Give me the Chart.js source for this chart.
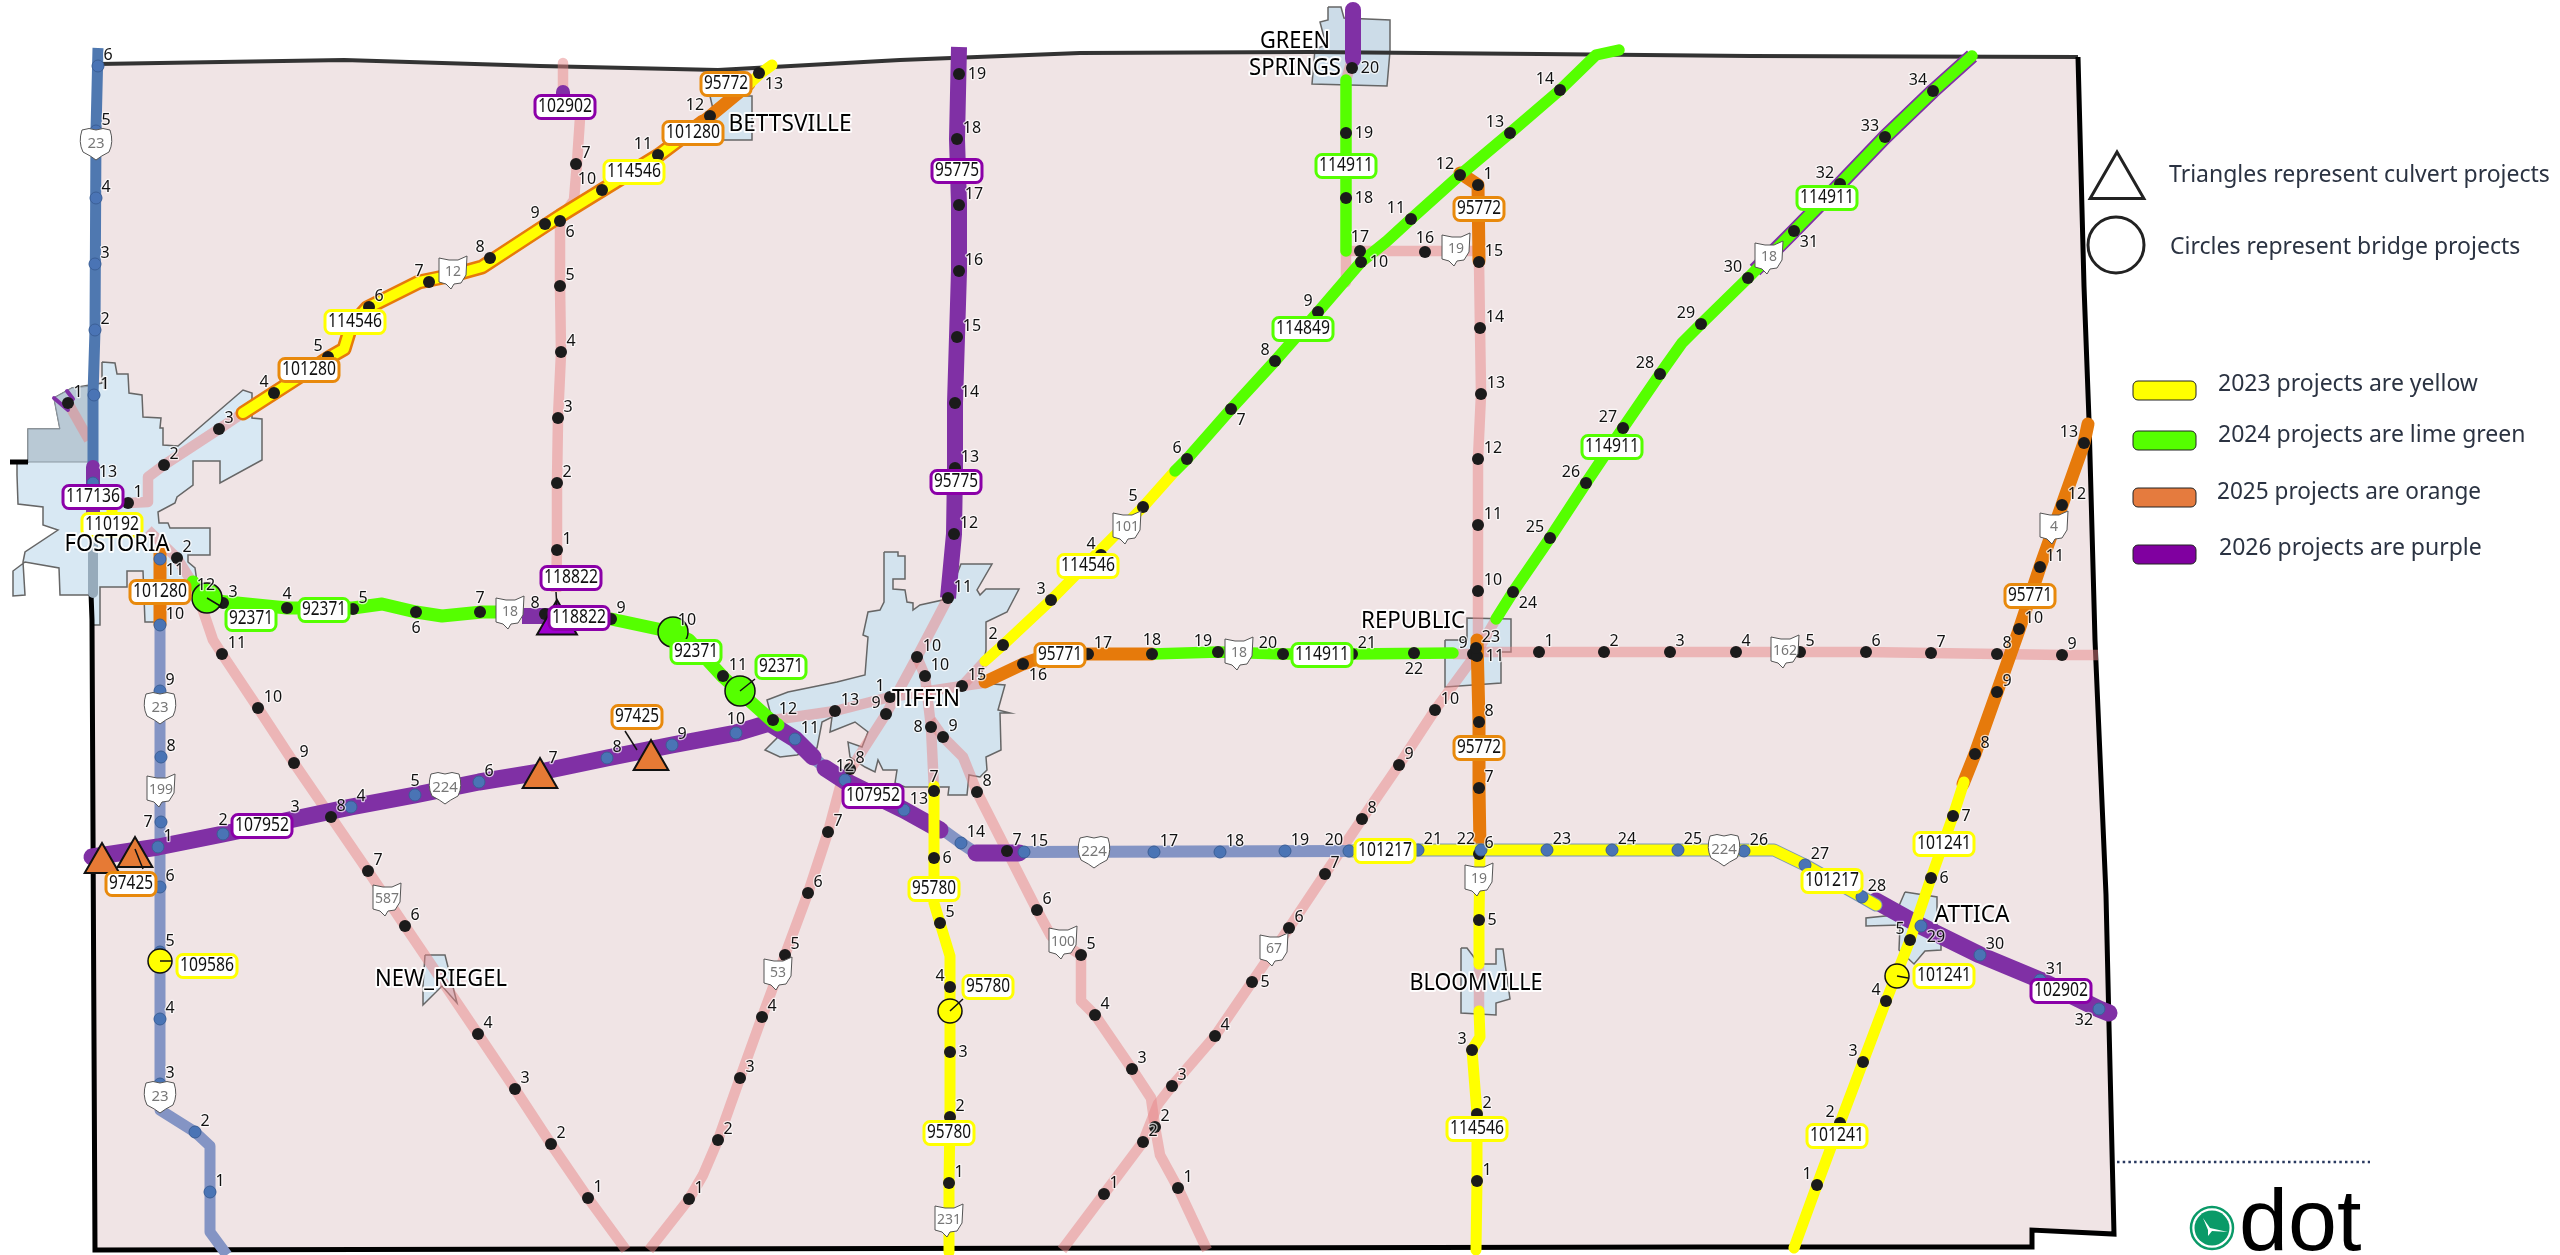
<!DOCTYPE html>
<html><head><meta charset="utf-8"><style>html,body{margin:0;padding:0;background:#fff;overflow:hidden}canvas{display:block}</style>
<script src="https://cdn.jsdelivr.net/npm/chart.js@4"></script></head><body><canvas id="c" width="2560" height="1255" style="width:2560px;height:1255px"></canvas>
<script>
// ---------- map geometry (map units) ----------
const countyFill=[[98,64],[344,60],[540,66],[718,70],[900,60],[1080,53],[1309,52],[1539,54],[1750,56],[2078,57],[2084,286],[2089,420],[2095,640],[2106,895],[2109,1025],[2114,1234],[2032,1230],[2032,1247],[1700,1247],[95,1250],[92,620],[91,470],[98,64]];
const countyTop=[[98,64],[344,60],[540,66],[718,70],[900,60],[1080,53],[1309,52],[1539,54],[1750,56],[2078,57]];
const countyRest=[[2078,57],[2084,286],[2089,420],[2095,640],[2106,895],[2109,1025],[2114,1234],[2032,1230],[2032,1247],[1700,1247],[95,1250],[92,620],[91,593]];
const countyStub=[[10,462],[28,462]];
const townFostoria=[[102,362],[115,363],[117,374],[128,374],[129,393],[142,395],[143,417],[161,418],[160,428],[163,428],[163,445],[178,446],[243,390],[252,393],[252,418],[262,419],[262,460],[220,483],[220,461],[193,461],[193,485],[177,497],[175,503],[158,512],[159,523],[168,523],[170,528],[210,528],[210,555],[188,555],[188,562],[195,568],[197,582],[165,585],[162,622],[145,622],[143,571],[127,571],[127,587],[100,587],[100,625],[92,625],[92,595],[60,595],[59,568],[25,562],[13,571],[13,596],[25,595],[23,562],[25,552],[58,530],[43,525],[43,507],[18,504],[17,475],[17,462],[28,462],[28,429],[60,429],[54,398],[72,388],[102,383],[102,362]];
const townFostoriaNorth=[[28,429],[60,429],[54,398],[72,388],[92,386],[92,462],[28,462],[28,429]];
const townTiffin=[[884,552],[898,552],[898,556],[905,556],[905,579],[893,579],[893,589],[905,590],[907,602],[913,603],[913,610],[920,605],[947,599],[961,564],[992,564],[977,590],[980,595],[986,589],[1019,589],[1007,612],[986,622],[986,650],[980,683],[1005,685],[998,710],[1010,713],[1000,713],[1001,750],[986,757],[987,770],[980,777],[969,775],[967,795],[948,795],[949,787],[905,787],[895,783],[897,770],[883,770],[878,760],[875,772],[865,767],[850,757],[848,742],[862,747],[868,732],[855,722],[830,732],[832,717],[822,722],[817,748],[797,755],[780,757],[765,750],[777,738],[767,700],[788,692],[837,682],[865,675],[868,637],[863,635],[868,612],[880,610],[884,602],[884,552]];
const townBettsville=[[710,96],[752,96],[752,140],[720,140],[710,96]];
const townGreenSprings=[[1328,7],[1341,7],[1344,18],[1390,20],[1390,51],[1387,86],[1312,84],[1315,49],[1326,45],[1320,22],[1328,20],[1328,7]];
const townRepublic=[[1445,640],[1467,640],[1467,618],[1511,619],[1511,652],[1501,652],[1501,683],[1445,687],[1445,640]];
const townBloomville=[[1461,948],[1467,948],[1479,964],[1496,964],[1496,949],[1503,949],[1510,999],[1496,1003],[1496,1015],[1461,1013],[1461,948]];
const townNewRiegel=[[425,955],[445,955],[457,1003],[442,986],[423,1005],[423,986],[425,955]];
const townAttica=[[1905,892],[1937,897],[1937,940],[1941,940],[1941,950],[1925,951],[1914,964],[1899,950],[1900,925],[1866,926],[1866,918],[1895,915],[1905,892]];

const us23North=[[98,48],[96,131],[95,330],[93,395],[93,469]];
const us23Town=[[93,514],[93,593]];
const us23South=[[160,559],[160,1110],[195,1132],[210,1146],[210,1232],[227,1255]];
const pinkSr12West=[[128,503],[148,502],[148,477],[164,465],[219,429],[243,413]];
const pinkSr635=[[563,63],[563,94],[580,118],[577,163],[574,200],[560,220],[560,286],[561,353],[558,418],[557,484],[557,549],[556,592]];
const pinkFostoriaNW=[[68,403],[89,440]];
const pinkSr587=[[148,530],[177,558],[195,587],[213,640],[222,654],[258,708],[294,763],[331,817],[368,871],[405,926],[478,1034],[515,1089],[551,1144],[588,1198],[626,1250]];
const pinkSr53=[[948,598],[917,657],[886,714],[850,770],[840,787],[828,832],[808,893],[785,955],[762,1017],[740,1078],[718,1140],[703,1175],[689,1199],[649,1250]];
const pinkTiffinWest=[[773,720],[835,711],[890,697],[962,686],[983,683]];
const pinkTiffinLink=[[962,686],[985,661]];
const pinkTiffinSouth=[[917,657],[925,676],[931,727],[934,790]];
const pinkSr100=[[931,720],[943,737],[963,757],[977,792],[1007,851],[1037,910],[1051,936],[1081,955],[1081,1001],[1095,1015],[1132,1069],[1151,1098],[1155,1127],[1160,1155],[1178,1188],[1207,1250]];
const pinkSr67=[[1062,1250],[1104,1194],[1143,1142],[1158,1104],[1172,1086],[1215,1036],[1252,982],[1289,928],[1325,874],[1362,819],[1399,765],[1435,710],[1476,654],[1496,619]];
const pinkSr19North=[[1479,261],[1480,328],[1481,394],[1478,459],[1478,525],[1478,591],[1478,650]];
const pinkSr19Link=[[1346,251],[1479,251]];
const pinkGreenSouth=[[1346,251],[1346,282]];
const pinkGreenNorth=[[1352,60],[1346,80]];
const pinkRepublicLink=[[1453,654],[1480,654]];
const pinkSr162=[[1476,652],[1539,652],[1604,652],[1670,652],[1736,652],[1800,652],[1866,652],[1931,653],[1997,654],[2062,655],[2098,655]];
const pinkBloomville=[[1479,964],[1479,1013]];

const yellowSr12=[[243,413],[330,357],[344,349],[351,326],[367,308],[419,282],[453,275],[482,267],[560,216],[659,155],[703,122]];
const orangeSr12Top=[[703,122],[749,84]];
const yellowSr12Top=[[749,84],[761,73],[772,65]];
const yellowSr101=[[985,661],[1003,645],[1051,600],[1143,507],[1175,471]];
const yellowSr53=[[934,786],[934,858],[934,903],[940,923],[950,956],[950,987],[950,1052],[950,1117],[949,1183],[949,1252]];
const yellowUs224=[[1349,851],[1418,850],[1547,850],[1612,850],[1678,850],[1774,850],[1805,865],[1862,897],[1876,905]];
const yellowSr19A=[[1480,851],[1479,920],[1479,964]];
const yellowSr19B=[[1479,1011],[1480,1037],[1472,1050],[1477,1114],[1477,1181],[1476,1250]];
const yellowSr4=[[1964,782],[1953,816],[1931,878],[1910,940],[1886,1001],[1863,1062],[1840,1123],[1817,1185],[1794,1248]];
const yellowFostoria=[[112,508],[112,524]];

const greenSr18West=[[193,582],[207,600],[287,608],[353,608],[382,604],[416,612],[442,616],[482,612],[511,612]];
const greenSr18West2=[[611,619],[672,632],[689,640],[723,677],[772,721],[778,725]];
const greenSr101=[[1175,471],[1187,459],[1231,409],[1275,361],[1318,312],[1361,262],[1387,241],[1411,219],[1460,175],[1510,133],[1560,90],[1596,55],[1619,50]];
const greenSpringsRoad=[[1346,80],[1346,251]];
const greenSr18East=[[1152,654],[1218,652],[1283,654],[1352,654],[1453,653]];
const greenNE=[[1496,619],[1513,592],[1550,538],[1586,483],[1623,428],[1660,374],[1682,343],[1701,324],[1748,278],[1794,231],[1840,184],[1885,137],[1933,91],[1972,56]];
const purpleUnderNE=[[1755,270],[1794,231],[1840,184],[1885,137],[1933,91],[1972,56]];

const orangeFostoria=[[160,551],[160,624]];
const orangeSr18=[[985,682],[1023,664],[1040,658],[1088,654],[1152,654]];
const orangeSr19N=[[1460,173],[1478,185],[1479,261]];
const orangeSr19S=[[1477,640],[1479,722],[1479,788],[1480,847]];
const orangeSr4=[[2088,424],[2084,443],[2062,505],[2040,567],[2019,630],[1997,692],[1975,754],[1963,784]];

const blueUs224Link=[[813,757],[825,768]];
const blueUs224East=[[940,830],[943,830],[961,843],[976,853]];
const blueUs224Mid=[[1019,852],[1349,851]];
const purpleUs224A=[[92,857],[158,847],[223,834],[351,807],[415,795],[479,782],[540,772],[607,758],[672,745],[736,733],[769,723],[795,739],[813,757]];
const purpleUs224B=[[825,768],[845,781],[904,810],[940,830]];
const purpleUs224C=[[976,853],[1019,853]];
const purpleEast=[[1876,901],[1921,926],[1980,955],[2040,980],[2099,1009],[2109,1013]];
const purpleSr53=[[959,47],[957,139],[959,204],[959,271],[957,337],[955,403],[955,468],[954,534],[948,598]];
const purpleGreenSprings=[[1353,10],[1353,59]];
const purpleSr18=[[522,616],[608,616]];
const purpleFostoria=[[93,467],[93,513]];
const purpleCap=[[563,92],[563,100]];
const purpleStub1=[[54,398],[68,410]];
const purpleStub2=[[67,391],[73,399]];

// ---------- reference posts: x, y, label, label side ----------
const dotsSr12=[[128,503,'1'],[164,465,'2'],[219,429,'3'],[274,393,'4','nw'],[328,357,'5','nw'],[369,307,'6'],[429,282,'7','nw'],[490,258,'8','nw'],[545,224,'9','nw'],[602,190,'10','nw'],[658,155,'11','nw'],[710,116,'12','nw'],[759,73,'13','se']];
const dotsSr635=[[576,164,'7'],[560,221,'6','se'],[560,286,'5'],[561,352,'4'],[558,418,'3'],[557,483,'2'],[557,550,'1']];
const dotsFostoriaNW=[[68,403,'1']];
const dotsSr18West=[[223,603,'3'],[287,608,'4','n'],[353,609,'5'],[416,612,'6','s'],[480,612,'7','n'],[545,614,'8','nw'],[611,619,'9'],[723,676,'11'],[773,720,'12']];
const dotsSr587=[[177,558,'2'],[222,654,'11'],[258,708,'10'],[294,763,'9'],[331,817,'8'],[368,871,'7'],[405,926,'6'],[478,1034,'4'],[515,1089,'3'],[551,1144,'2'],[588,1198,'1']];
const dotsSr53South=[[689,1199,'1'],[718,1140,'2'],[740,1078,'3'],[762,1017,'4'],[785,955,'5'],[808,893,'6'],[828,832,'7'],[850,769,'8'],[886,714,'9','nw'],[917,657,'10']];
const dotsTiffin=[[925,676,'10'],[835,711,'13'],[890,697,'1','nw'],[931,727,'8','w'],[943,737,'9'],[934,791,'7','n'],[977,792,'8']];
const dotsSr53North=[[948,598,'11'],[954,534,'12'],[955,468,'13'],[955,403,'14'],[957,337,'15'],[959,271,'16'],[959,205,'17'],[957,139,'18'],[959,74,'19','e']];
const dotsSr53Lower=[[934,858,'6','e'],[940,923,'5'],[950,987,'4','nw'],[950,1052,'3','e'],[950,1117,'2'],[949,1183,'1']];
const dotsSr100=[[1007,851,'7'],[1037,910,'6'],[1081,955,'5'],[1095,1015,'4'],[1132,1069,'3'],[1155,1127,'2'],[1178,1188,'1']];
const dotsSr67=[[1104,1194,'1'],[1143,1142,'2'],[1172,1086,'3'],[1215,1036,'4'],[1252,982,'5','e'],[1289,928,'6'],[1325,874,'7'],[1362,819,'8'],[1399,765,'9'],[1435,710,'10'],[1473,654,'9','nw'],[1477,656,'11','e']];
const dotsGreenSprings=[[1352,68,'20','e'],[1346,133,'19','e'],[1346,198,'18','e'],[1360,251,'17','n'],[1425,252,'16','n']];
const dotsSr101=[[1003,645,'2','nw'],[1051,600,'3','nw'],[1101,555,'4','nw'],[1143,507,'5','nw'],[1187,459,'6','nw'],[1231,409,'7','se'],[1275,361,'8','nw'],[1318,312,'9','nw'],[1361,262,'10','e'],[1411,219,'11','nw'],[1460,175,'12','nw'],[1510,133,'13','nw'],[1560,90,'14','nw']];
const dotsSr19North=[[1478,185,'1'],[1479,262,'15'],[1480,328,'14'],[1481,394,'13'],[1478,459,'12'],[1478,525,'11'],[1478,591,'10']];
const dotsSr19South=[[1479,722,'8'],[1479,788,'7'],[1479,854,'6'],[1479,920,'5','e'],[1472,1050,'3','nw'],[1477,1114,'2'],[1477,1181,'1']];
const dotsNE=[[1513,592,'24','se'],[1550,538,'25','nw'],[1586,483,'26','nw'],[1623,428,'27','nw'],[1660,374,'28','nw'],[1701,324,'29','nw'],[1748,278,'30','nw'],[1794,231,'31','se'],[1840,184,'32','nw'],[1885,137,'33','nw'],[1933,91,'34','nw']];
const dotsSr18East=[[962,686,'15'],[1023,664,'16','se'],[1088,654,'17'],[1152,654,'18','n'],[1218,652,'19','nw'],[1283,654,'20','nw'],[1352,654,'21'],[1414,653,'22','s'],[1476,648,'23']];
const dotsSr162=[[1539,652,'1'],[1604,652,'2'],[1670,652,'3'],[1736,652,'4'],[1800,652,'5'],[1866,652,'6'],[1931,653,'7'],[1997,654,'8'],[2062,655,'9']];
const dotsSr4=[[2084,443,'13','nw'],[2062,505,'12'],[2040,567,'11'],[2019,629,'10'],[1997,692,'9'],[1975,754,'8'],[1953,816,'7','e'],[1931,878,'6','e'],[1910,940,'5','nw'],[1886,1001,'4','nw'],[1863,1062,'3','nw'],[1840,1123,'2','nw'],[1817,1185,'1','nw']];
const bluesUs23N=[[98,66,'6'],[96,131,'5'],[96,198,'4'],[95,264,'3'],[95,330,'2'],[94,395,'1']];
const bluesUs23S=[[160,559,'11','se'],[160,625,'10'],[160,691,'9'],[161,757,'8'],[161,822,'7','w'],[160,887,'6'],[160,952,'5'],[160,1019,'4'],[160,1084,'3'],[195,1132,'2'],[210,1192,'1'],[93,483,'13']];
const bluesUs224=[[158,847,'1'],[223,834,'2','n'],[351,807,'4'],[415,795,'5','n'],[479,782,'6'],[607,758,'8'],[672,745,'9'],[736,733,'10','n'],[795,739,'11'],[845,780,'12','n'],[904,810,'13'],[961,843,'14'],[1024,852,'15'],[1154,852,'17'],[1220,852,'18'],[1285,851,'19'],[1349,851,'20','nw'],[1418,850,'21'],[1481,850,'22','nw'],[1547,850,'23'],[1612,850,'24'],[1678,850,'25'],[1744,851,'26'],[1805,865,'27'],[1862,897,'28'],[1921,926,'29','se'],[1980,955,'30'],[2040,980,'31'],[2099,1009,'32','sw']];
const looseNumbers=[[295,807,'3'],[553,758,'7'],[105,384,'1'],[206,585,'12'],[687,620,'10']];

// ---------- structures ----------
const culvertTriangles=[[102,863],[135,857],[540,778],[651,760]];
const culvertPurple=[[557,623]];
const bridgesGreen=[[207,598],[673,632],[740,691]];
const bridgesYellow=[[160,961],[950,1011],[1897,976]];
const leaders=[[[207,598],[222,607]],[[740,691],[755,679]],[[160,961],[172,961]],[[950,1011],[963,999]],[[1897,976],[1908,978]],[[625,731],[637,750]],[[135,849],[143,869]],[[556,592],[557,608]]];
const legendTriangle=[[2117,183]];
const legendCircle=[[2116,245]];
const dotSeparator=[[2117,1162],[2370,1162]];
const logoRing=[[2212,1228]];
const logoSwoosh=[[2203,1218],[2210,1228],[2228,1232],[2212,1231],[2208,1236],[2208,1230],[2203,1218]];

// ---------- text ----------
const placeNames=[['BETTSVILLE',790,123],['FOSTORIA',117,543],['GREEN',1295,40],['SPRINGS',1295,67],['TIFFIN',926,698],['REPUBLIC',1413,620],['NEW_RIEGEL',441,978],['BLOOMVILLE',1476,982],['ATTICA',1972,914]];
const placeWidths=[123,105,70,92,68,104,132,133,75];
const projects2023=[['114546',355,322],['114546',634,172],['110192',112,525],['109586',207,966],['114546',1088,566],['95780',934,889],['95780',988,987],['95780',949,1133],['101217',1385,851],['114546',1477,1129],['101217',1832,881],['101241',1944,844],['101241',1944,976],['101241',1837,1136]];
const projects2024=[['92371',251,619],['92371',324,610],['92371',696,652],['92371',781,667],['114911',1346,166],['114849',1303,329],['114911',1612,447],['114911',1322,655],['114911',1827,198]];
const projects2025=[['95772',726,84],['101280',693,133],['101280',309,370],['101280',160,592],['97425',637,717],['97425',131,884],['95772',1479,209],['95771',1060,655],['95772',1479,748],['95771',2030,596]];
const projects2026=[['102902',565,107],['117136',93,497],['118822',571,578],['118822',579,618],['107952',262,826],['107952',873,796],['95775',957,171],['95775',956,482],['102902',2061,991]];
const usShields=[['23',96,144],['23',160,708],['23',160,1097],['224',445,788],['224',1094,852],['224',1724,850]];
const ohioShields=[['12',453,273],['18',510,613],['199',161,791],['587',387,900],['53',778,974],['101',1127,528],['19',1456,250],['18',1239,654],['100',1063,943],['67',1274,950],['19',1479,880],['231',949,1221],['162',1785,652],['4',2054,528],['18',1769,258]];
const symbolNotes=[['Triangles represent culvert projects',2169,175],['Circles represent bridge projects',2170,247]];
const yearNotes=[['2023 projects are yellow',2218,384,'#ffff00'],['2024 projects are lime green',2218,435,'#55ff00'],['2025 projects are orange',2217,492,'#e57b3e'],['2026 projects are purple',2219,548,'#8000a0']];
const yearSwatchY=[390,440,497,554];

// ---------- styling ----------
const C={pink:'rgba(232,134,135,.5)',yellow:'#ffff00',green:'#55ff00',orange:'#e67a0b',purple:'#8030a5',blueN:'#4f78b0',blueS:'#8494c4',land:'#f0e4e5',town:'#d3e3ee'};
const FONT='"Noto Sans"';
const sets=[];
function poly(data,fill,stroke='#666',w=1.5){sets.push({data,showLine:true,fill:'shape',backgroundColor:fill,borderColor:stroke,borderWidth:w,pointRadius:0,tension:0,borderJoinStyle:'miter'});}
function line(data,color,w,extra={}){sets.push(Object.assign({data,showLine:true,fill:false,borderColor:color,borderWidth:w,pointRadius:0,tension:0,borderCapStyle:'round',borderJoinStyle:'round'},extra));}
function marks(data,style,r,bg,bc,bw,rot=0){sets.push({data:data.map(p=>({x:p[0],y:p[1]})),showLine:false,pointStyle:style,pointRadius:r,pointRotation:rot,backgroundColor:bg,pointBackgroundColor:bg,pointBorderColor:bc,pointBorderWidth:bw});}

poly(countyFill,C.land,'rgba(0,0,0,0)',0);
poly(townFostoria,'#d8e8f3');poly(townFostoriaNorth,'#b9c9d5','#8b98a2',1);poly(townTiffin,C.town);poly(townBettsville,C.town);poly(townGreenSprings,'#ccdce8');poly(townRepublic,C.town);poly(townBloomville,C.town);poly(townNewRiegel,C.town);poly(townAttica,C.town);
line(countyTop,'#333',4,{borderCapStyle:'butt'});line(countyRest,'#000',5,{borderCapStyle:'butt',borderJoinStyle:'miter'});line(countyStub,'#000',5,{borderCapStyle:'butt'});
[pinkSr12West,pinkSr635,pinkFostoriaNW,pinkSr587,pinkSr53,pinkTiffinWest,pinkTiffinLink,pinkTiffinSouth,pinkSr100,pinkSr67,pinkSr19North,pinkSr19Link,pinkGreenSouth,pinkGreenNorth,pinkRepublicLink,pinkSr162,pinkBloomville].forEach(d=>line(d,C.pink,10.5,{borderCapStyle:'butt'}));
line(us23North,C.blueN,11,{borderCapStyle:'butt'});line(us23Town,'#97abbb',10,{borderCapStyle:'butt'});line(us23South,C.blueS,11,{borderCapStyle:'butt'});
[blueUs224Link,blueUs224East,blueUs224Mid].forEach(d=>line(d,C.blueS,12,{borderCapStyle:'butt'}));
line(purpleUnderNE,C.purple,15,{borderCapStyle:'butt'});
[purpleUs224A,purpleUs224B,purpleUs224C,purpleEast].forEach(d=>line(d,C.purple,17));
[purpleSr53,purpleGreenSprings].forEach(d=>line(d,C.purple,16,{borderCapStyle:'butt'}));
line(purpleSr18,C.purple,16,{borderCapStyle:'butt'});line(purpleFostoria,C.purple,14);line(purpleCap,C.purple,14);
line(purpleStub1,C.purple,4);line(purpleStub2,C.purple,4);
line(yellowSr12,C.orange,15);line(yellowSr12,C.yellow,10);
[orangeFostoria,orangeSr12Top,orangeSr18,orangeSr19N,orangeSr19S,orangeSr4].forEach(d=>line(d,C.orange,13));
line(yellowUs224,'#7b97b8',13);
[yellowSr12Top,yellowSr101,yellowSr53,yellowUs224,yellowSr19A,yellowSr19B,yellowSr4,yellowFostoria].forEach(d=>line(d,C.yellow,11));
[greenSr18West,greenSr18West2].forEach(d=>line(d,C.green,13));
[greenSr101,greenSpringsRoad,greenSr18East,greenNE].forEach(d=>line(d,C.green,11.5));
const blackLists=[dotsSr12,dotsSr635,dotsFostoriaNW,dotsSr18West,dotsSr587,dotsSr53South,dotsTiffin,dotsSr53North,dotsSr53Lower,dotsSr100,dotsSr67,dotsGreenSprings,dotsSr101,dotsSr19North,dotsSr19South,dotsNE,dotsSr18East,dotsSr162,dotsSr4];
const blueLists=[bluesUs23N,bluesUs23S,bluesUs224];
blackLists.forEach(d=>marks(d,'circle',6,'#1b1b1b','#1b1b1b',0));
blueLists.forEach(d=>marks(d,'circle',6,'#4a74b5','#3b5f96',1));
marks(bridgesGreen,'circle',15,C.green,'#111',1.5);
marks(bridgesYellow,'circle',12,C.yellow,'#111',1.5);
marks(culvertTriangles,'triangle',20,'#e67a35','#111',2);
marks(culvertPurple,'triangle',23,'#a000d0','#111',2);
leaders.forEach(d=>line(d,'#111',1.5,{borderCapStyle:'butt'}));
marks(legendTriangle,'triangle',31,'rgba(255,255,255,0)','#222',3);
marks(legendCircle,'circle',28,'rgba(255,255,255,0)','#222',3);
line(dotSeparator,'#2a3a60',2.5,{borderDash:[2.5,3.2],borderCapStyle:'butt'});
marks(logoRing,'circle',21,'#fff','#0a9a68',2.5);
marks(logoRing,'circle',17.5,'#0a9a68','#0a9a68',0);
poly(logoSwoosh,'#fff','rgba(0,0,0,0)',0);
sets.forEach((s,i)=>{s.order=sets.length-i;s.clip=false;});

const OFF={ne:[10,-11],nw:[-10,-11],se:[10,11],sw:[-10,11],n:[0,-14],s:[0,16],e:[13,0],w:[-13,0]};
function roundRect(c,x,y,w,h,r){c.beginPath();c.roundRect(x,y,w,h,r);}
const mapText={id:'mapText',afterDatasetsDraw(ch){
  const c=ch.ctx,X=v=>ch.scales.x.getPixelForValue(v),Y=v=>ch.scales.y.getPixelForValue(v);
  c.save();c.textAlign='center';c.textBaseline='middle';c.lineJoin='round';
  // post numbers
  c.font='16px '+FONT;
  const num=(t,x,y)=>{c.lineWidth=2.5;c.strokeStyle='rgba(255,255,255,.7)';c.strokeText(t,x,y);c.fillStyle='#111';c.fillText(t,x,y);};
  [...blackLists,...blueLists].forEach(list=>list.forEach(p=>{const o=OFF[p[3]||'ne'];const extra=p[2].length>1&&o[0]!==0?Math.sign(o[0])*5:0;num(p[2],X(p[0])+o[0]+extra,Y(p[1])+o[1]);}));
  looseNumbers.forEach(p=>num(p[2],X(p[0]),Y(p[1])));
  // shields
  usShields.forEach(s=>{const x=X(s[1]),y=Y(s[2]);c.beginPath();c.moveTo(x-14,y-14);c.quadraticCurveTo(x-7,y-17,x,y-14);c.quadraticCurveTo(x+7,y-17,x+14,y-14);c.quadraticCurveTo(x+18,y-2,x+13,y+8);c.quadraticCurveTo(x+5,y+12,x,y+16);c.quadraticCurveTo(x-5,y+12,x-13,y+8);c.quadraticCurveTo(x-18,y-2,x-14,y-14);c.closePath();c.fillStyle='#fff';c.fill();c.strokeStyle='#555';c.lineWidth=1;c.stroke();c.fillStyle='#777';c.font='15px '+FONT;c.fillText(s[0],x,y,26);});
  ohioShields.forEach(s=>{const x=X(s[1]),y=Y(s[2]);c.beginPath();c.moveTo(x-14,y-15);c.lineTo(x-4,y-13);c.lineTo(x+5,y-13);c.lineTo(x+14,y-17);c.lineTo(x+13,y+2);c.lineTo(x+8,y+10);c.lineTo(x+1,y+11);c.lineTo(x-2,y+16);c.lineTo(x-7,y+11);c.lineTo(x-14,y+9);c.closePath();c.fillStyle='#fff';c.fill();c.strokeStyle='#555';c.lineWidth=1;c.stroke();c.fillStyle='#777';c.font='14px '+FONT;c.fillText(s[0],x,y-1,24);});
  // project tags
  const tag=(list,color)=>list.forEach(t=>{const x=X(t[1]),y=Y(t[2]),w=t[0].length>5?60:50,h=23;roundRect(c,x-w/2,y-h/2,w,h,6);c.fillStyle='#fff';c.fill();c.strokeStyle=color;c.lineWidth=3;c.stroke();c.fillStyle='#111';c.font='19px '+FONT;c.fillText(t[0],x,y,w-6);});
  tag(projects2023,'#ffff00');tag(projects2024,'#55ff00');tag(projects2025,'#e8890c');tag(projects2026,'#8b00a8');
  // place names
  c.font='24px '+FONT;
  placeNames.forEach((t,i)=>{const x=X(t[1]),y=Y(t[2])+1;const mw=placeWidths[i];c.lineWidth=4;c.strokeStyle='rgba(255,255,255,.9)';c.strokeText(t[0],x,y,mw);c.fillStyle='#000';c.fillText(t[0],x,y,mw);});
  // legend
  c.textAlign='left';c.fillStyle='#2b3342';c.font='23px '+FONT;
  symbolNotes.forEach(t=>c.fillText(t[0],X(t[1]),Y(t[2]),t[0].length*11));
  yearNotes.forEach((t,i)=>{roundRect(c,X(2133),Y(yearSwatchY[i])-9,63,19,5);c.fillStyle=t[3];c.fill();c.strokeStyle='#222';c.lineWidth=1;c.stroke();c.fillStyle='#2b3342';c.fillText(t[0],X(t[1]),Y(t[2]),t[0].length*11);});
  // logo
  c.fillStyle='#000';c.font='88px "Liberation Sans"';c.textBaseline='alphabetic';c.fillText('dot',X(2239),Y(1250),124);
  c.restore();
}};
Chart.register(mapText);
new Chart(document.getElementById('c'),{type:'scatter',data:{datasets:sets},options:{responsive:false,animation:false,devicePixelRatio:1,layout:{padding:0,autoPadding:false},events:[],
 plugins:{legend:{display:false},tooltip:{enabled:false},title:{display:false}},
 scales:{x:{type:'linear',display:false,min:0,max:2560},y:{type:'linear',display:false,reverse:true,min:0,max:1255}}}});
</script></body></html>
